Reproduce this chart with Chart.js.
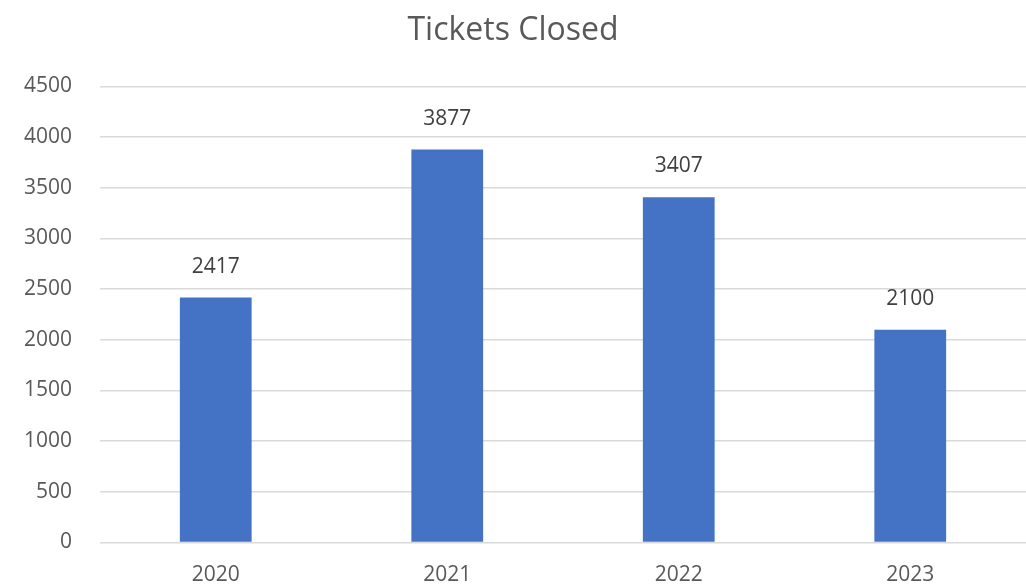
<!DOCTYPE html>
<html>
<head>
<meta charset="utf-8">
<script src="https://cdn.jsdelivr.net/npm/chart.js@4/dist/chart.umd.min.js"></script>
<style>
  html, body { margin: 0; padding: 0; background: #fff; overflow: hidden; }
  #wrap { width: 1060px; height: 587px; }
</style>
</head>
<body>
<div id="wrap"><canvas id="chart" width="1060" height="587"></canvas></div>
<script>
const years = ["2020", "2021", "2022", "2023"];
const ticketsClosed = [2417, 3877, 3407, 2100];
const yTicks = [0, 500, 1000, 1500, 2000, 2500, 3000, 3500, 4000, 4500];

// draws the value above each bar, like Excel data labels
const barLabels = {
  id: "barLabels",
  afterDatasetsDraw(chart) {
    const ctx = chart.ctx;
    const meta = chart.getDatasetMeta(0);
    ctx.save();
    ctx.font = "21px 'Open Sans'";
    ctx.fillStyle = "#404040";
    ctx.textAlign = "center";
    ctx.textBaseline = "middle";
    meta.data.forEach(function (bar, i) {
      ctx.fillText(String(chart.data.datasets[0].data[i]), bar.x, bar.y - 31);
    });
    ctx.restore();
  },
};

new Chart(document.getElementById("chart"), {
  type: "bar",
  data: {
    labels: years,
    datasets: [
      {
        label: "Tickets Closed",
        data: ticketsClosed,
        backgroundColor: "#4472C4",
        categoryPercentage: 1,
        barPercentage: 0.31,
      },
    ],
  },
  options: {
    responsive: false,
    animation: false,
    layout: { padding: { top: 0, right: 34, bottom: 0, left: 0 } },
    plugins: {
      legend: { display: false },
      tooltip: { enabled: false },
      title: {
        display: true,
        text: "Tickets Closed",
        color: "#595959",
        font: { family: "'Open Sans'", size: 32, weight: "normal" },
        padding: { top: 12, bottom: 36 },
      },
    },
    scales: {
      x: {
        grid: { display: false },
        border: { display: false },
        ticks: {
          color: "#595959",
          font: { family: "'Open Sans'", size: 21 },
          padding: 12,
        },
        afterFit(scale) {
          scale.height = 44.5;
        },
      },
      y: {
        min: 0,
        max: 4500,
        afterBuildTicks(scale) {
          scale.ticks = yTicks.map(function (v) { return { value: v }; });
        },
        grid: { color: "#d9d9d9", lineWidth: 1.5, drawTicks: false },
        border: { display: false },
        ticks: {
          color: "#595959",
          font: { family: "'Open Sans'", size: 21 },
          padding: 28,
          callback: function (value) { return String(value); },
        },
        afterFit(scale) {
          scale.width = 100;
        },
      },
    },
  },
  plugins: [barLabels],
});
</script>
</body>
</html>
